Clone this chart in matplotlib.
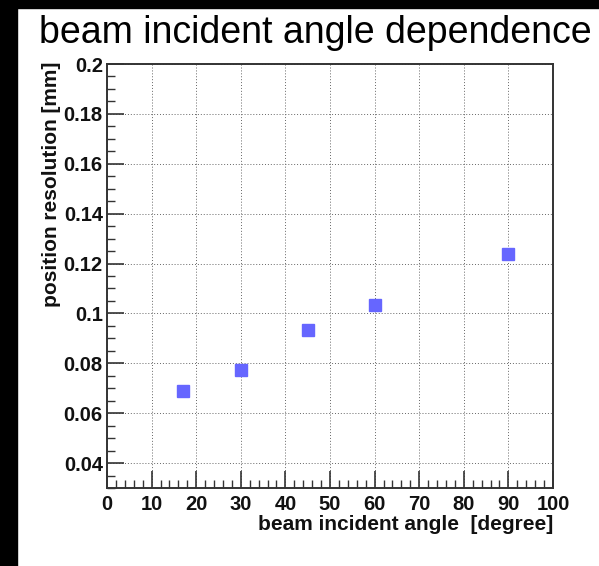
import matplotlib
matplotlib.use("Agg")
import matplotlib.pyplot as plt
from matplotlib.ticker import MultipleLocator, FixedLocator
from matplotlib.patches import Rectangle

angles = [17, 30, 45, 60, 90]
resolution = [0.0688, 0.0772, 0.0932, 0.1032, 0.1238]
xticks = [0, 10, 20, 30, 40, 50, 60, 70, 80, 90, 100]
yticks = [0.04, 0.06, 0.08, 0.1, 0.12, 0.14, 0.16, 0.18, 0.2]
ytick_labels = ["0.04", "0.06", "0.08", "0.1", "0.12", "0.14", "0.16", "0.18", "0.2"]

W, H = 599, 566
fig = plt.figure(figsize=(W / 100, H / 100), dpi=100)
fig.patch.set_facecolor("white")

# black border strips (left and top)
fig.patches.append(Rectangle((0, 0), 17 / W, 1, transform=fig.transFigure, color="black", zorder=0))
fig.patches.append(Rectangle((0, 1 - 8 / H), 1, 8 / H, transform=fig.transFigure, color="black", zorder=0))

left, right, top, bottom = 107, 553, 64, 488
ax = fig.add_axes([left / W, 1 - bottom / H, (right - left) / W, (bottom - top) / H])

ax.plot(angles, resolution, linestyle="none", marker="s", markersize=9.3,
        markerfacecolor="#6666ff", markeredgecolor="#6666ff", zorder=3)

ax.set_xlim(0, 100)
ax.set_ylim(0.03, 0.2)
ax.xaxis.set_major_locator(FixedLocator(xticks))
ax.xaxis.set_minor_locator(MultipleLocator(2))
ax.yaxis.set_major_locator(FixedLocator(yticks))
ax.yaxis.set_minor_locator(MultipleLocator(0.005))
ax.set_xticklabels([str(t) for t in xticks])
ax.set_yticklabels(ytick_labels)

ax.tick_params(which="both", direction="in", top=False, right=False, color="#333333")
ax.tick_params(which="major", length=12, width=1.2)
ax.tick_params(which="minor", length=6, width=1.0)
ax.tick_params(axis="y", which="major", pad=3)
ax.tick_params(axis="x", which="major", pad=5)
for lab in ax.get_xticklabels() + ax.get_yticklabels():
    lab.set_fontfamily("Liberation Sans")
    lab.set_fontweight("bold")
    lab.set_fontsize(14.5)
    lab.set_color("#111111")

ax.grid(True, which="major", linestyle=(0, (1, 2)), color="#666666", linewidth=0.7)
for sp in ax.spines.values():
    sp.set_linewidth(1.4)
    sp.set_color("#333333")

fig.text(52 / W, 1 - 62 / H, "position resolution [mm]", rotation=90, ha="center", va="top",
         fontfamily="Liberation Sans", fontweight="bold", fontsize=15, color="#111111")

fig.text(right / W, 1 - 524 / H, "beam incident angle  [degree]", ha="right", va="center",
         fontfamily="Liberation Sans", fontweight="bold", fontsize=15, color="#111111")

fig.text(39 / W, 1 - 43 / H, "beam incident angle dependence", ha="left", va="baseline",
         fontfamily="Liberation Sans", fontsize=27, color="black")

fig.savefig("out.png", dpi=100)
